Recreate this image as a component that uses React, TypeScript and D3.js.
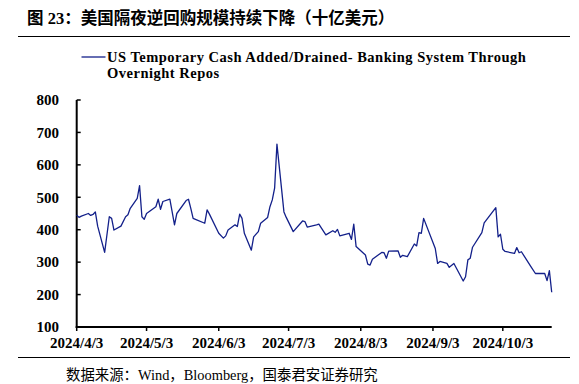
import React from "react";
import * as d3 from "d3";

const dates: string[] = [
  "2024-04-03","2024-04-04","2024-04-05","2024-04-08","2024-04-09","2024-04-10","2024-04-11","2024-04-12",
  "2024-04-15","2024-04-17","2024-04-18","2024-04-19","2024-04-22","2024-04-24","2024-04-25","2024-04-26",
  "2024-04-29","2024-04-30","2024-05-01","2024-05-02","2024-05-03","2024-05-07","2024-05-08","2024-05-09",
  "2024-05-10","2024-05-13","2024-05-14","2024-05-15","2024-05-16","2024-05-20","2024-05-21","2024-05-22",
  "2024-05-23","2024-05-24","2024-05-28","2024-05-29","2024-05-30","2024-06-03","2024-06-05","2024-06-06",
  "2024-06-07","2024-06-10","2024-06-11","2024-06-12","2024-06-13","2024-06-14","2024-06-17","2024-06-18",
  "2024-06-20","2024-06-21","2024-06-24","2024-06-25","2024-06-26","2024-06-27","2024-06-28","2024-07-01",
  "2024-07-02","2024-07-05","2024-07-09","2024-07-10","2024-07-11","2024-07-15","2024-07-16","2024-07-19",
  "2024-07-22","2024-07-23","2024-07-24","2024-07-25","2024-07-29","2024-07-30","2024-07-31","2024-08-01",
  "2024-08-05","2024-08-06","2024-08-07","2024-08-08","2024-08-12","2024-08-13","2024-08-14","2024-08-15",
  "2024-08-19","2024-08-20","2024-08-21","2024-08-23","2024-08-26","2024-08-27","2024-08-28","2024-08-29",
  "2024-08-30","2024-09-04","2024-09-05","2024-09-06","2024-09-09","2024-09-10","2024-09-12","2024-09-16",
  "2024-09-17","2024-09-18","2024-09-19","2024-09-20","2024-09-24","2024-09-25","2024-09-30","2024-10-01",
  "2024-10-02","2024-10-03","2024-10-04","2024-10-08","2024-10-09","2024-10-10","2024-10-11","2024-10-15",
  "2024-10-17","2024-10-21","2024-10-22","2024-10-23","2024-10-24",
];

const values: number[] = [
  445,438,442,450,444,447,455,411,
  330,440,435,399,411,440,446,466,
  497,536,440,432,450,471,494,463,
  487,494,455,415,450,490,494,466,
  435,432,420,461,448,389,374,381,
  399,415,410,448,435,389,337,378,
  394,420,438,471,492,528,664,455,
  438,394,427,425,408,415,417,384,
  397,392,401,381,389,370,417,348,
  322,294,291,309,330,329,312,334,
  335,315,321,317,356,350,391,389,
  435,342,296,302,296,284,296,242,
  255,307,312,346,391,421,468,378,
  386,340,333,327,345,329,332,287,
  265,265,243,274,207,
];

const yTicks: number[] = [100, 200, 300, 400, 500, 600, 700, 800];
const xTickDates: string[] = ["2024-04-03","2024-05-03","2024-06-03","2024-07-03","2024-08-03","2024-09-03","2024-10-03"];
const xTickLabels: string[] = ["2024/4/3","2024/5/3","2024/6/3","2024/7/3","2024/8/3","2024/9/3","2024/10/3"];

const titleText = "图 23：美国隔夜逆回购规模持续下降（十亿美元）";
const legendLine1 = "US Temporary Cash Added/Drained- Banking System Through";
const legendLine2 = "Overnight Repos";
const sourceText = "数据来源：Wind，Bloomberg，国泰君安证券研究";

const parse = d3.timeParse("%Y-%m-%d");

export default function App() {
  const W = 579, H = 384;
  const left = 76.7, right = 551.7, top = 100, bottom = 327;
  const x = d3.scaleTime()
    .domain([parse("2024-04-03") as Date, parse("2024-10-24") as Date])
    .range([left, right]);
  const y = d3.scaleLinear().domain([100, 800]).range([bottom, top]);
  const pts = dates.map((d, i) => ({ d: parse(d) as Date, v: values[i] }));
  const line = d3.line<{ d: Date; v: number }>().x(p => x(p.d)).y(p => y(p.v));
  const serif = "'Liberation Serif', 'Times New Roman', serif";
  const cjk = "'Liberation Serif', 'Noto Sans CJK SC', sans-serif";
  return (
    <svg width={W} height={H} style={{ position: "absolute", left: 0, top: 0, background: "#fff" }}>
      <text x={27} y={24} fontFamily={cjk} fontSize={16.5} fontWeight="bold" fill="#000">{titleText}</text>
      <line x1={18} x2={570} y1={36.5} y2={36.5} stroke="#000" strokeWidth={1} />
      <line x1={81.5} x2={105.5} y1={57} y2={57} stroke="#13208a" strokeWidth={1.3} />
      <text x={107} y={62} fontFamily={serif} fontSize={14.5} fontWeight="bold" letterSpacing={0.5}>{legendLine1}</text>
      <text x={107} y={78} fontFamily={serif} fontSize={14.5} fontWeight="bold" letterSpacing={0.5}>{legendLine2}</text>
      {yTicks.map(t => (
        <g key={t}>
          <line x1={left} x2={left + 4} y1={y(t)} y2={y(t)} stroke="#000" strokeWidth={1.5} />
          <text x={59} y={y(t)} dy="0.35em" textAnchor="end" fontFamily={serif} fontSize={15} fontWeight="bold">{t}</text>
        </g>
      ))}
      {xTickDates.map((d, i) => {
        const xx = x(parse(d) as Date);
        return (
          <g key={d}>
            <line x1={xx} x2={xx} y1={bottom} y2={bottom + 4} stroke="#000" strokeWidth={1.5} />
            <text x={xx} y={348} textAnchor="middle" fontFamily={serif} fontSize={15} fontWeight="bold">{xTickLabels[i]}</text>
          </g>
        );
      })}
      <line x1={left} x2={left} y1={top} y2={bottom + 1} stroke="#000" strokeWidth={2} />
      <line x1={left - 1} x2={right} y1={bottom} y2={bottom} stroke="#000" strokeWidth={2} />
      <path d={line(pts) || ""} fill="none" stroke="#13208a" strokeWidth={1.3} strokeLinejoin="round" />
      <line x1={18} x2={570} y1={357.5} y2={357.5} stroke="#000" strokeWidth={1} />
      <text x={66} y={380} fontFamily={cjk} fontSize={14.4} fill="#000">{sourceText}</text>
    </svg>
  );
}
